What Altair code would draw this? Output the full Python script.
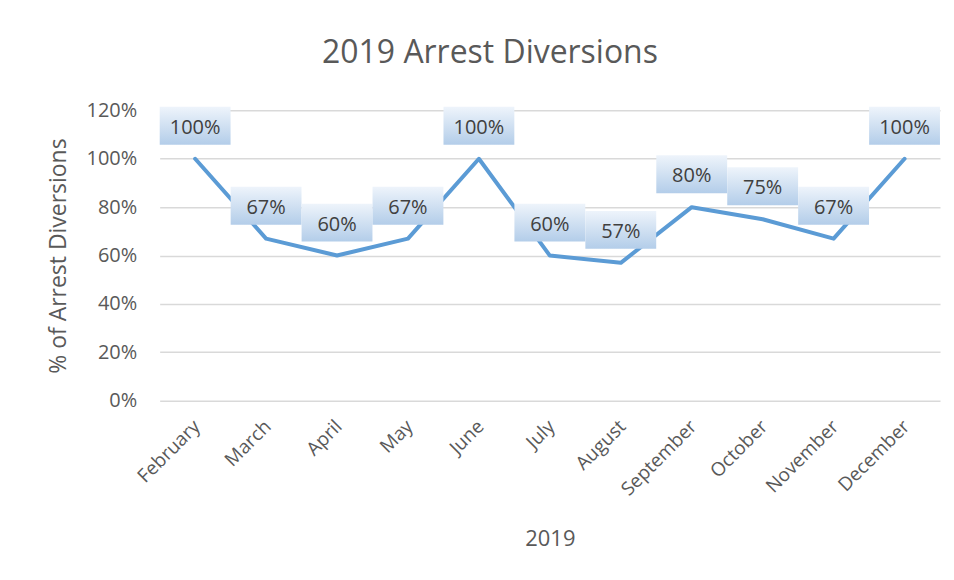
import altair as alt
import pandas as pd

months = ["February", "March", "April", "May", "June", "July", "August",
          "September", "October", "November", "December"]
values = [1.00, 0.67, 0.60, 0.67, 1.00, 0.60, 0.57, 0.80, 0.75, 0.67, 1.00]
labels = ["100%", "67%", "60%", "67%", "100%", "60%", "57%", "80%", "75%", "67%", "100%"]

df = pd.DataFrame({"month": months, "value": values, "label": labels})

FONT = "Open Sans"
GRAY = "#595959"

x = alt.X("month:N", sort=months, title="2019",
          scale=alt.Scale(type="point", padding=0.5),
          axis=alt.Axis(labelAngle=-45, labelFontSize=19, labelColor=GRAY,
                        titleFontSize=22, titleColor=GRAY, titleFontWeight="normal",
                        titlePadding=29, ticks=False, tickSize=0, labelPadding=16,
                        labelOffset=-5, domain=False, grid=False))
y = alt.Y("value:Q", title="% of Arrest Diversions",
          scale=alt.Scale(domain=[0, 1.2]),
          axis=alt.Axis(format=".0%", values=[0, 0.2, 0.4, 0.6, 0.8, 1.0, 1.2],
                        labelFontSize=20, labelColor=GRAY, titleFontSize=23,
                        titleColor=GRAY, titleFontWeight="normal",
                        ticks=False, tickSize=0, labelPadding=23, titlePadding=16,
                        domain=False, gridColor="#d9d9d9", gridWidth=1.5))

base = alt.Chart(df).encode(x=x, y=y)

line = base.mark_line(color="#5B9BD5", strokeWidth=4, strokeCap="round", strokeJoin="round")

grad = alt.Gradient(gradient="linear",
                    stops=[alt.GradientStop(color="#eef4fb", offset=0),
                           alt.GradientStop(color="#b3cde9", offset=1)],
                    x1=0, x2=0, y1=0, y2=1)
boxes = base.mark_point(shape="M-1,-1.465L1,-1.465L1,-0.395L-1,-0.395Z",
                        filled=True, fill=grad, strokeWidth=0, size=5041, opacity=1)

text = base.mark_text(dy=-31, fontSize=20, font=FONT, color="#404040",
                      baseline="middle").encode(text="label:N")

chart = (line + boxes + text).properties(
    width=782, height=291,
    title=alt.TitleParams("2019 Arrest Diversions", fontSize=32, font=FONT,
                          color=GRAY, fontWeight="normal", anchor="middle",
                          dx=-60, offset=30),
    padding={"left": 39, "top": 29, "right": 6, "bottom": 10},
).configure(font=FONT, background="white").configure_view(stroke=None)

chart.save("out.html", embed_options={"renderer": "svg", "actions": False})
